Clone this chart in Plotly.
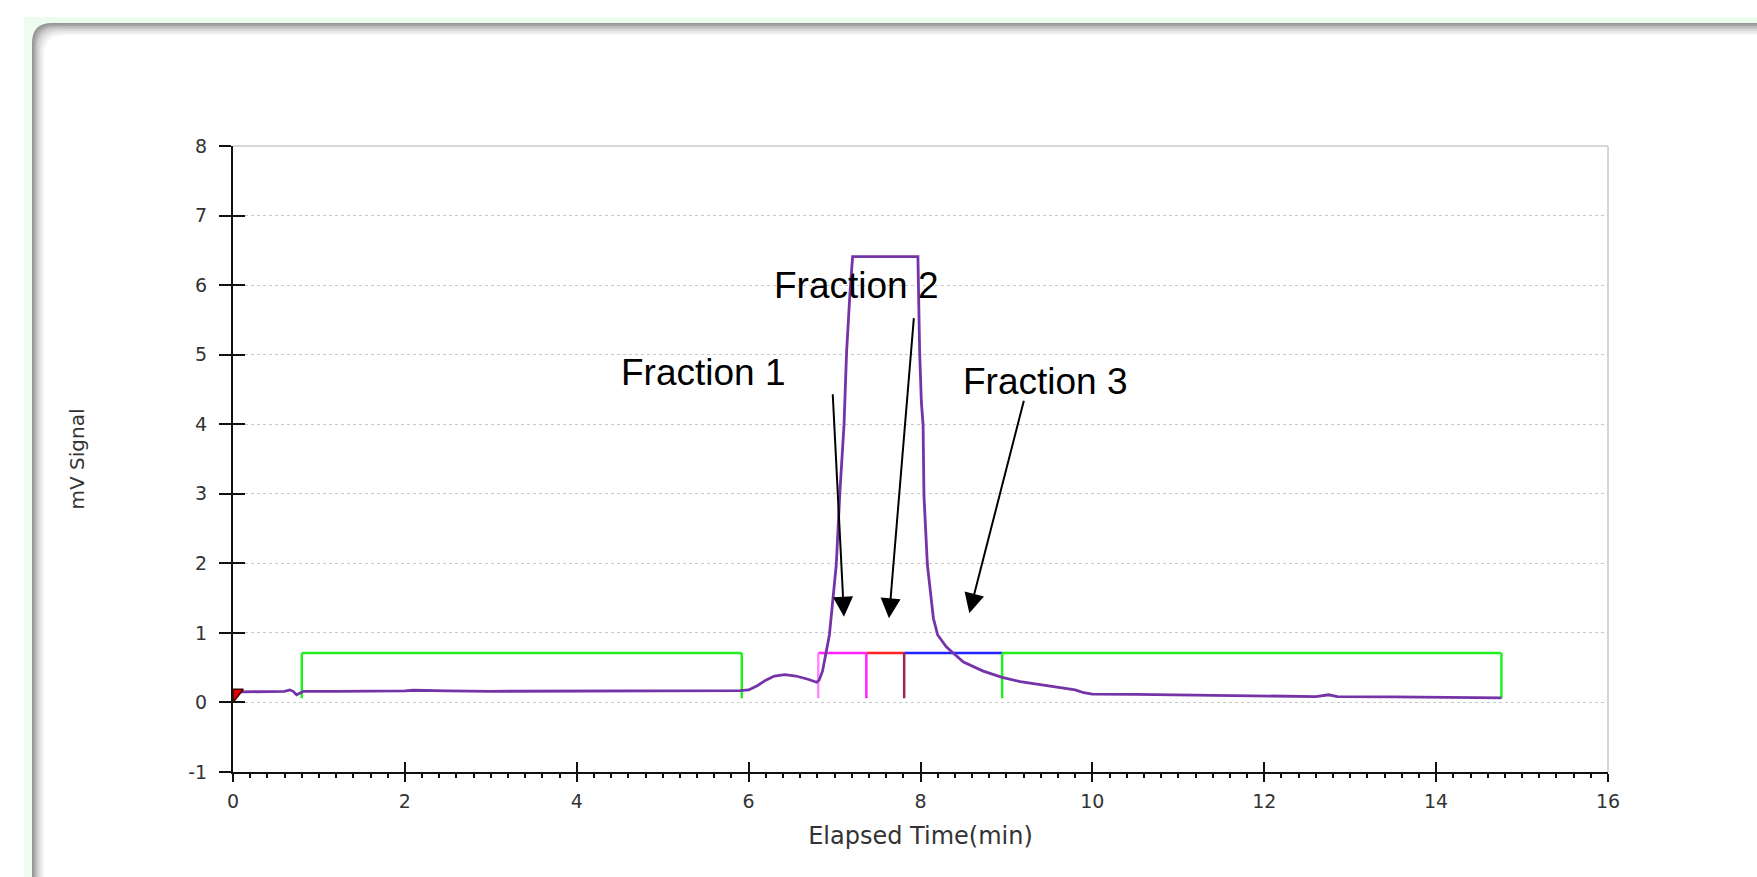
import plotly.graph_objects as go

# ---------------- data ----------------
time_min = [0.0, 0.3, 0.6, 0.66, 0.70, 0.74, 0.78, 0.82, 1.2, 1.6, 2.0, 2.1, 2.2, 2.5, 3.0, 3.5,
            4.0, 4.5, 5.0, 5.5, 5.9, 6.0, 6.1, 6.2, 6.3, 6.42, 6.55, 6.7, 6.79, 6.82, 6.86, 6.90,
            6.94, 7.02, 7.06, 7.11, 7.14, 7.18, 7.21, 7.5, 7.97, 7.99, 8.01, 8.03, 8.04, 8.08,
            8.15, 8.20, 8.30, 8.38, 8.50, 8.73, 8.95, 9.16, 9.5, 9.8, 9.9, 10.0, 10.5, 11.0,
            12.0, 12.5, 12.6, 12.75, 12.85, 13.5, 14.0, 14.76]
signal_mv = [0.15, 0.155, 0.16, 0.18, 0.16, 0.11, 0.14, 0.16, 0.16, 0.16, 0.165, 0.175, 0.17, 0.165,
             0.16, 0.16, 0.16, 0.16, 0.165, 0.165, 0.17, 0.18, 0.24, 0.32, 0.38, 0.40, 0.38, 0.33,
             0.29, 0.32, 0.45, 0.71, 0.97, 1.98, 2.98, 3.99, 5.04, 5.9, 6.41, 6.41, 6.41, 5.04,
             4.32, 3.99, 2.98, 1.98, 1.21, 0.97, 0.80, 0.71, 0.58, 0.45, 0.36, 0.30, 0.24, 0.18,
             0.14, 0.12, 0.115, 0.11, 0.10, 0.09, 0.085, 0.11, 0.085, 0.08, 0.075, 0.065]

# fraction collection windows
frac_start = [0.80, 6.81, 7.37, 7.81, 8.95]
frac_end = [5.92, 7.37, 7.81, 8.95, 14.76]
frac_colors = ["#22ee22", "#ff22ff", "#ff2222", "#2222ff", "#22ee22"]
frac_level = 0.71
frac_base = 0.06
boundary_x = [0.80, 5.92, 6.81, 7.37, 7.81, 8.95, 14.76]
boundary_colors = ["#22ee22", "#22ee22", "#ff88ff", "#ff22ff", "#a02848", "#22ee22", "#22ee22"]

# injection marker
inject_x = [0.0, 0.12, 0.0, 0.0]
inject_y = [0.19, 0.19, 0.0, 0.19]

# annotations
labels = ["Fraction 1", "Fraction 2", "Fraction 3"]
label_x = [5.477, 7.255, 9.454]
label_y = [4.737, 5.995, 4.62]
tail_x = [6.978, 7.924, 9.207]
tail_y = [4.453, 5.546, 4.359]
head_x = [7.110, 7.633, 8.568]
head_y = [1.233, 1.210, 1.282]

x_ticks = [0, 2, 4, 6, 8, 10, 12, 14, 16]
y_ticks = [-1, 0, 1, 2, 3, 4, 5, 6, 7, 8]
y_tick_text = ["-1", "0", "1", "2", "3", "4", "5", "6", "7", "8"]

# ---------------- figure ----------------
W, H = 1757, 877
ML, MR, MT, MB = 233, 149, 146, 105
PW, PH = W - ML - MR, H - MT - MB


def pp(X, Y):
    return (X - ML) / PW, (H - MB - Y) / PH


fig = go.Figure()

# fraction horizontals
for s, e, c in zip(frac_start, frac_end, frac_colors):
    fig.add_trace(go.Scatter(x=[s, e], y=[frac_level, frac_level], mode="lines",
                             line=dict(color=c, width=2.5), showlegend=False, hoverinfo="skip"))
# fraction verticals
for bx, c in zip(boundary_x, boundary_colors):
    fig.add_trace(go.Scatter(x=[bx, bx], y=[frac_base, frac_level], mode="lines",
                             line=dict(color=c, width=2.5), showlegend=False, hoverinfo="skip"))

# signal
fig.add_trace(go.Scatter(x=time_min, y=signal_mv, mode="lines",
                         line=dict(color="#7434a8", width=2.8), showlegend=False))

# injection marker
fig.add_trace(go.Scatter(x=inject_x, y=inject_y, mode="lines", fill="toself",
                         fillcolor="#e00000", line=dict(color="#400000", width=1.5),
                         showlegend=False, cliponaxis=False, hoverinfo="skip"))

# dummy traces for overlay axes (crossing ticks)
fig.add_trace(go.Scatter(x=[None], y=[None], xaxis="x2", yaxis="y", showlegend=False))
fig.add_trace(go.Scatter(x=[None], y=[None], xaxis="x", yaxis="y2", showlegend=False))

tickfont = dict(family="DejaVu Sans", size=19, color="#333333")

fig.update_layout(
    width=W, height=H,
    margin=dict(l=ML, r=MR, t=MT, b=MB, pad=0),
    paper_bgcolor="white", plot_bgcolor="white",
    xaxis=dict(range=[0, 16], tickvals=x_ticks, ticks="outside", ticklen=8, tickwidth=2,
               tickcolor="#111111", showline=True, linecolor="#111111", linewidth=2,
               showgrid=False, zeroline=False, tickfont=tickfont, ticklabelstandoff=3,
               minor=dict(dtick=0.2, tick0=0, ticks="outside", ticklen=4, tickwidth=1.5,
                          tickcolor="#111111", showgrid=False),
               title=dict(text="Elapsed Time(min)",
                          font=dict(family="DejaVu Sans", size=24, color="#333333"),
                          standoff=16)),
    xaxis2=dict(range=[0, 16], tickvals=x_ticks, overlaying="x", anchor="y", side="bottom",
                ticks="inside", ticklen=10, tickwidth=2, tickcolor="#111111",
                showticklabels=False, showgrid=False, showline=False, zeroline=False),
    yaxis=dict(range=[-1, 8], tickvals=y_ticks, ticktext=y_tick_text, ticks="outside",
               ticklen=12, tickwidth=2,
               tickcolor="#111111", showline=True, linecolor="#111111", linewidth=2,
               showgrid=True, gridcolor="#c8c8c8", griddash="dot", gridwidth=1.2,
               zeroline=False, tickfont=tickfont, ticklabelstandoff=8,
               title=dict(text="mV Signal",
                          font=dict(family="DejaVu Sans", size=20, color="#333333"),
                          standoff=98)),
    yaxis2=dict(range=[-1, 8], tickvals=y_ticks, overlaying="y", anchor="x", side="left",
                ticks="inside", ticklen=12, tickwidth=2, tickcolor="#111111",
                showticklabels=False, showgrid=False, showline=False, zeroline=False),
)

# ---------- background panel (decoration) ----------
shapes = []
gx0, gy0 = pp(24, 17)
gx1, gy1 = pp(W + 50, H + 50)
shapes.append(dict(type="rect", xref="paper", yref="paper", x0=gx0, y0=gy1, x1=gx1, y1=gy0,
                   fillcolor="#edfced", line=dict(width=0), layer="below"))
shadow = [(32, 23, "#969696"), (33.5, 24.5, "#a6a6a6"), (35, 26, "#b8b8b8"), (36.5, 27.5, "#cacaca"),
          (38, 29, "#dadada"), (40, 31, "#e8e8e8"), (42, 33, "#f4f4f4"), (44, 35, "#ffffff")]
R = 20
for X0, Y0, col in shadow:
    a = pp(X0, Y0 + R)
    b = pp(X0, Y0)
    c = pp(X0 + R, Y0)
    d = pp(W + 50, Y0)
    e = pp(W + 50, H + 50)
    f = pp(X0, H + 50)
    path = (f"M{a[0]},{a[1]} Q{b[0]},{b[1]} {c[0]},{c[1]} L{d[0]},{d[1]} "
            f"L{e[0]},{e[1]} L{f[0]},{f[1]} Z")
    shapes.append(dict(type="path", xref="paper", yref="paper", path=path,
                       fillcolor=col, line=dict(width=0), layer="below"))
# top and right plot borders (light gray)
shapes.append(dict(type="line", xref="paper", yref="paper", x0=0, x1=1, y0=1, y1=1,
                   line=dict(color="#d6d6d6", width=2), layer="below"))
shapes.append(dict(type="line", xref="paper", yref="paper", x0=1, x1=1, y0=0, y1=1,
                   line=dict(color="#d6d6d6", width=2), layer="below"))
fig.update_layout(shapes=shapes)

# ---------- annotations ----------
ann = []
for t, lx, ly in zip(labels, label_x, label_y):
    ann.append(dict(x=lx, y=ly, xref="x", yref="y", text=t, showarrow=False,
                    font=dict(family="Liberation Sans", size=37, color="black"),
                    xanchor="center", yanchor="middle"))
for tx, ty, hx, hy in zip(tail_x, tail_y, head_x, head_y):
    ann.append(dict(x=hx, y=hy, xref="x", yref="y", ax=tx, ay=ty, axref="x", ayref="y",
                    text="", showarrow=True, arrowhead=2, arrowsize=2, arrowwidth=2,
                    arrowcolor="black", standoff=0))
fig.update_layout(annotations=ann)

fig.write_html("out.html", config={"displayModeBar": False})
